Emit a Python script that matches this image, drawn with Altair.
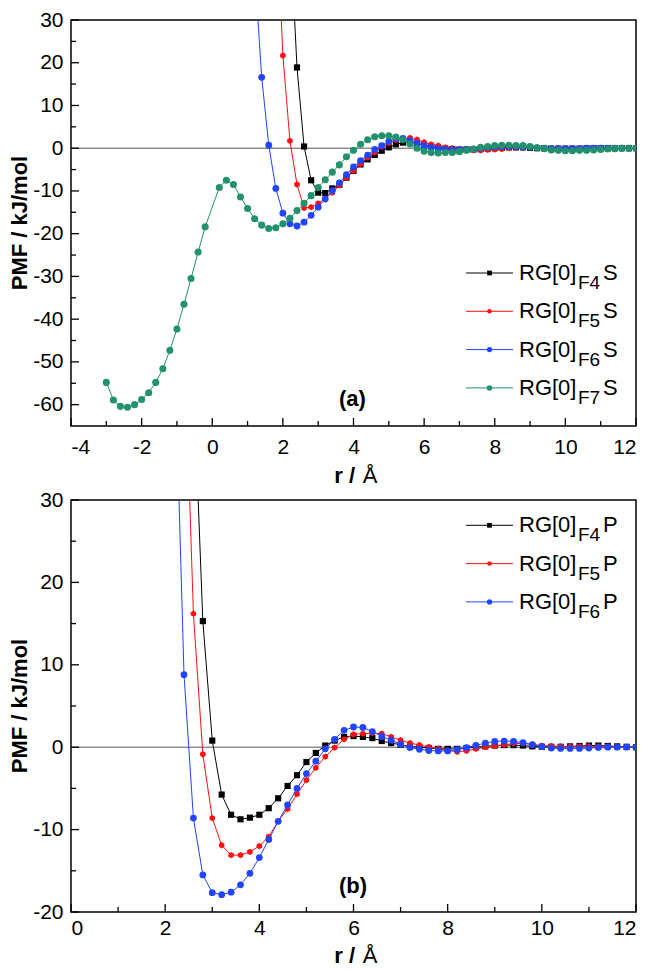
import altair as alt
import pandas as pd

FONT = "Liberation Sans"

# ---------------- Panel (a) data ----------------
A_F4S_X = [2.2, 2.4, 2.6, 2.8, 3.0, 3.2, 3.4, 3.6, 3.8, 4.0,
           4.2, 4.4, 4.6, 4.8, 5.0, 5.2, 5.4, 5.6, 5.8, 6.0,
           6.2, 6.4, 6.6, 6.8, 7.0, 7.2, 7.4, 7.6, 7.8, 8.0,
           8.2, 8.4, 8.6, 8.8, 9.0, 9.2, 9.4, 9.6, 9.8, 10.0,
           10.2, 10.4, 10.6, 10.8, 11.0, 11.2, 11.4, 11.6, 11.8, 12.0]
A_F4S_Y = [52, 18.9, 0.4, -7.5, -10.4, -10.5, -9.4, -8.6, -6.9, -5.3,
           -3.8, -2.6, -1.6, -0.6, 0.2, 0.9, 1.3, 1.4, 1.1, 0.7,
           0.4, 0.1, -0.1, -0.2, -0.3, -0.3, -0.3, -0.2, -0.1, 0.0,
           0.1, 0.2, 0.2, 0.2, 0.1, 0.0, 0.0, -0.1, -0.1, -0.1,
           -0.1, -0.1, 0.0, 0.0, 0.0, 0.0, 0.0, 0.0, 0.0, 0.0]

A_F5S_X = [1.8, 2.0, 2.2, 2.4, 2.6, 2.8, 3.0, 3.2, 3.4, 3.6, 3.8, 4.0,
           4.2, 4.4, 4.6, 4.8, 5.0, 5.2, 5.4, 5.6, 5.8, 6.0,
           6.2, 6.4, 6.6, 6.8, 7.0, 7.2, 7.4, 7.6, 7.8, 8.0,
           8.2, 8.4, 8.6, 8.8, 9.0, 9.2, 9.4, 9.6, 9.8, 10.0,
           10.2, 10.4, 10.6, 10.8, 11.0, 11.2, 11.4, 11.6, 11.8, 12.0]
A_F5S_Y = [59, 21.7, 1.7, -8.5, -14.0, -13.8, -12.9, -11.8, -10.4, -8.7, -6.9, -5.3,
           -3.7, -2.2, -1.0, 0.3, 1.2, 1.9, 2.3, 2.4, 2.0, 1.4,
           0.9, 0.6, 0.2, 0.0, -0.3, -0.4, -0.5, -0.5, -0.4, -0.3,
           -0.2, 0.0, 0.1, 0.1, 0.2, 0.1, 0.0, -0.1, -0.1, -0.1,
           -0.1, -0.1, 0.0, 0.0, 0.0, 0.0, 0.0, 0.0, 0.0, 0.0]

A_F6S_X = [1.2, 1.4, 1.6, 1.8, 2.0, 2.2, 2.4, 2.6, 2.8, 3.0, 3.2, 3.4, 3.6, 3.8, 4.0,
           4.2, 4.4, 4.6, 4.8, 5.0, 5.2, 5.4, 5.6, 5.8, 6.0,
           6.2, 6.4, 6.6, 6.8, 7.0, 7.2, 7.4, 7.6, 7.8, 8.0,
           8.2, 8.4, 8.6, 8.8, 9.0, 9.2, 9.4, 9.6, 9.8, 10.0,
           10.2, 10.4, 10.6, 10.8, 11.0, 11.2, 11.4, 11.6, 11.8, 12.0]
A_F6S_Y = [42, 16.6, 0.7, -9.4, -15.2, -17.7, -18.2, -17.3, -15.7, -13.8, -11.9, -9.9, -8.1, -6.2, -4.4,
           -2.9, -1.6, -0.3, 0.6, 1.6, 2.3, 2.3, 1.8, 1.2, 0.6,
           0.2, -0.1, -0.3, -0.4, -0.4, -0.3, -0.2, 0.0, 0.2, 0.3,
           0.4, 0.4, 0.4, 0.3, 0.3, 0.1, 0.0, -0.1, -0.1, -0.1,
           -0.1, -0.1, 0.0, 0.0, 0.0, 0.0, 0.0, 0.0, 0.0, 0.0]

A_F7S_X = [-3.0, -2.8, -2.6, -2.4, -2.2, -2.0, -1.8, -1.6, -1.4, -1.2,
           -1.0, -0.8, -0.6, -0.4, -0.2, 0.2, 0.4, 0.6, 0.8, 1.0,
           1.2, 1.4, 1.6, 1.8, 2.0, 2.2, 2.4, 2.6, 2.8, 3.0,
           3.2, 3.4, 3.6, 3.8, 4.0, 4.2, 4.4, 4.6, 4.8, 5.0,
           5.2, 5.4, 5.6, 5.8, 6.0, 6.2, 6.4, 6.6, 6.8, 7.0,
           7.2, 7.4, 7.6, 7.8, 8.0, 8.2, 8.4, 8.6, 8.8, 9.0,
           9.2, 9.4, 9.6, 9.8, 10.0, 10.2, 10.4, 10.6, 10.8, 11.0,
           11.2, 11.4, 11.6, 11.8, 12.0]
A_F7S_Y = [-54.8, -58.9, -60.4, -60.6, -60.0, -58.8, -57.2, -54.8, -51.6, -47.3,
           -42.3, -36.5, -30.5, -24.3, -18.4, -9.2, -7.5, -8.5, -11.4, -14.1,
           -16.5, -18.0, -18.8, -18.6, -17.7, -16.4, -14.6, -12.9, -11.1, -9.2,
           -7.4, -5.6, -3.9, -2.0, -0.5, 0.9, 2.0, 2.7, 2.9, 2.9,
           2.6, 2.0, 1.0, 0.0, -0.7, -1.0, -1.1, -1.0, -1.0, -0.8,
           -0.5, -0.2, 0.2, 0.4, 0.6, 0.7, 0.7, 0.65, 0.6, 0.4,
           0.1, -0.1, -0.4, -0.5, -0.6, -0.6, -0.5, -0.5, -0.4, -0.3,
           -0.2, -0.1, 0.0, 0.0, 0.0]

# ---------------- Panel (b) data ----------------
B_F4P_X = [2.6, 2.8, 3.0, 3.2, 3.4, 3.6, 3.8, 4.0,
           4.2, 4.4, 4.6, 4.8, 5.0, 5.2, 5.4, 5.6, 5.8, 6.0,
           6.2, 6.4, 6.6, 6.8, 7.0, 7.2, 7.4, 7.6, 7.8, 8.0,
           8.2, 8.4, 8.6, 8.8, 9.0, 9.2, 9.4, 9.6, 9.8, 10.0,
           10.2, 10.4, 10.6, 10.8, 11.0, 11.2, 11.4, 11.6, 11.8, 12.0]
B_F4P_Y = [45, 15.3, 0.8, -5.75, -8.2, -8.75, -8.55, -8.2,
           -7.4, -6.2, -4.7, -3.4, -1.8, -0.7, 0.2, 0.8, 1.25, 1.35,
           1.25, 1.1, 0.75, 0.5, 0.3, 0.1, 0.0, -0.1, -0.2, -0.2,
           -0.2, -0.1, 0.0, 0.1, 0.2, 0.25, 0.25, 0.2, 0.1, 0.05,
           0.05, 0.05, 0.1, 0.15, 0.2, 0.2, 0.15, 0.1, 0.05, 0.0]

B_F5P_X = [2.4, 2.6, 2.8, 3.0, 3.2, 3.4, 3.6, 3.8, 4.0,
           4.2, 4.4, 4.6, 4.8, 5.0, 5.2, 5.4, 5.6, 5.8, 6.0,
           6.2, 6.4, 6.6, 6.8, 7.0, 7.2, 7.4, 7.6, 7.8, 8.0,
           8.2, 8.4, 8.6, 8.8, 9.0, 9.2, 9.4, 9.6, 9.8, 10.0,
           10.2, 10.4, 10.6, 10.8, 11.0, 11.2, 11.4, 11.6, 11.8, 12.0]
B_F5P_Y = [51, 16.2, -0.86, -8.6, -11.9, -13.1, -13.1, -12.7, -12.0,
           -10.85, -9.0, -7.5, -5.7, -4.0, -2.5, -1.15, -0.05, 0.96, 1.55,
           1.65, 1.7, 1.65, 1.25, 0.85, 0.5, 0.27, 0.03, -0.2, -0.4,
           -0.55, -0.45, -0.2, 0.0, 0.15, 0.3, 0.45, 0.45, 0.35, 0.2,
           0.15, 0.1, 0.1, 0.1, 0.1, 0.1, 0.1, 0.05, 0.05, 0.05]

B_F6P_X = [2.2, 2.4, 2.6, 2.8, 3.0, 3.2, 3.4, 3.6, 3.8, 4.0,
           4.2, 4.4, 4.6, 4.8, 5.0, 5.2, 5.4, 5.6, 5.8, 6.0,
           6.2, 6.4, 6.6, 6.8, 7.0, 7.2, 7.4, 7.6, 7.8, 8.0,
           8.2, 8.4, 8.6, 8.8, 9.0, 9.2, 9.4, 9.6, 9.8, 10.0,
           10.2, 10.4, 10.6, 10.8, 11.0, 11.2, 11.4, 11.6, 11.8, 12.0]
B_F6P_Y = [49, 8.8, -8.6, -15.5, -17.65, -17.9, -17.6, -16.7, -15.3, -13.4,
           -11.2, -9.0, -7.0, -5.0, -3.2, -1.7, -0.2, 0.96, 2.05, 2.45,
           2.4, 1.9, 1.3, 0.85, 0.35, -0.05, -0.25, -0.4, -0.45, -0.45,
           -0.3, -0.05, 0.23, 0.5, 0.7, 0.75, 0.7, 0.55, 0.3, 0.07,
           -0.1, -0.15, -0.15, -0.15, -0.1, -0.05, 0.0, 0.0, 0.0, 0.0]

# ---------------- axes / labels ----------------
A_X_MAJOR = [-4, -2, 0, 2, 4, 6, 8, 10, 12]
A_X_MINOR = [-3, -1, 1, 3, 5, 7, 9, 11]
A_Y_MAJOR = [-60, -50, -40, -30, -20, -10, 0, 10, 20, 30]
A_Y_MINOR = [-55, -45, -35, -25, -15, -5, 5, 15, 25]
B_X_MAJOR = [0, 2, 4, 6, 8, 10, 12]
B_X_MINOR = [1, 3, 5, 7, 9, 11]
B_Y_MAJOR = [-20, -10, 0, 10, 20, 30]
B_Y_MINOR = [-15, -5, 5, 15, 25]

A_SUBS = ["F4", "F5", "F6", "F7"]
A_SUFFIX = "S"
B_SUBS = ["F4", "F5", "F6"]
B_SUFFIX = "P"
Y_TITLE = "PMF / kJ/mol"

BLACK, RED, BLUE, GREEN = "#000000", "#ff1010", "#2244ff", "#22916e"
HEX = "M0,-1L0.866,-0.5L0.866,0.5L0,1L-0.866,0.5L-0.866,-0.5Z"
STYLES = [(BLACK, "square", 38), (RED, HEX, 40), (BLUE, "circle", 46), (GREEN, "circle", 50)]

W = 565
HA = 406
HB = 412
LABEL_EXPR = "replace(datum.label, '\u2212', '-')"


def txt(s, x, y, size=22, bold=False, align="left", baseline="alphabetic", angle=0):
    kw = dict(text=s, fontSize=size, font=FONT, align=align, baseline=baseline,
              fontWeight="bold" if bold else "normal", color="black")
    if angle:
        kw["angle"] = angle
    return alt.Chart(pd.DataFrame({"k": [0]})).mark_text(**kw).encode(
        x=alt.value(x), y=alt.value(y))


def panel(series, xdom, ydom, xmaj, xmin, ymaj, ymin, H, subs, suffix,
          leg_base, panel_label, label_base, xtitle_base, xpad):
    xs = alt.Scale(domain=xdom, nice=False, zero=False)
    ys = alt.Scale(domain=ydom, nice=False, zero=False)
    xax = alt.Axis(values=xmaj, title=None, ticks=False, domain=False, grid=False,
                   labelFont=FONT, labelFontSize=21, labelColor="black", labelPadding=xpad,
                   labelExpr=LABEL_EXPR)
    yax = alt.Axis(values=ymaj, title=None, ticks=False, domain=False, grid=False,
                   labelFont=FONT, labelFontSize=21, labelColor="black", labelPadding=8,
                   labelExpr=LABEL_EXPR)
    X = lambda f: alt.X(f, scale=xs, axis=xax)
    Y = lambda f: alt.Y(f, scale=ys, axis=yax)
    layers = []
    layers.append(alt.Chart(pd.DataFrame({"v": [0]})).mark_rule(
        color="#555555", strokeWidth=1).encode(y=Y("v:Q")))
    for (xv, yv), (col, shp, sz) in zip(series, STYLES):
        df = pd.DataFrame({"r": xv, "pmf": yv})
        base = alt.Chart(df).encode(x=X("r:Q"), y=Y("pmf:Q"))
        layers.append(base.mark_line(color=col, strokeWidth=1, clip=True))
        layers.append(base.mark_point(shape=shp, filled=True, size=sz, color=col,
                                      opacity=1, clip=True))
    # ticks (inward)
    for vals, ln in ((ymaj, 8), (ymin, 5)):
        layers.append(alt.Chart(pd.DataFrame({"v": vals})).mark_rule(
            color="black", strokeWidth=1.3).encode(
            y=Y("v:Q"), x=alt.value(0), x2=alt.value(ln)))
    for vals, ln in ((xmaj, 8), (xmin, 5)):
        layers.append(alt.Chart(pd.DataFrame({"v": vals})).mark_rule(
            color="black", strokeWidth=1.3).encode(
            x=X("v:Q"), y=alt.value(H), y2=alt.value(H - ln)))
    # legend
    for i, sub in enumerate(subs):
        col, shp, sz = STYLES[i]
        b = leg_base + i * 38.3
        ly = b - 7
        layers.append(alt.Chart(pd.DataFrame({"k": [0]})).mark_rule(
            color=col, strokeWidth=1).encode(
            x=alt.value(395), x2=alt.value(442), y=alt.value(ly)))
        layers.append(alt.Chart(pd.DataFrame({"k": [0]})).mark_point(
            shape=shp, filled=True, size=sz * 0.6, color=col, opacity=1).encode(
            x=alt.value(418.5), y=alt.value(ly)))
        layers.append(txt("RG[0]", 448, b))
        layers.append(txt(sub, 507, b + 9, size=19))
        layers.append(txt(suffix, 532, b))
    layers.append(txt(panel_label, 268, label_base, bold=True))
    # axis titles
    layers.append(txt("r /", 263.3, xtitle_base, bold=True))
    layers.append(txt("Å", 291.7, xtitle_base))
    layers.append(txt(Y_TITLE, -51, H / 2, bold=True, align="center",
                      baseline="middle", angle=270))
    return alt.layer(*layers).properties(width=W, height=H)


pa = panel([(A_F4S_X, A_F4S_Y), (A_F5S_X, A_F5S_Y), (A_F6S_X, A_F6S_Y), (A_F7S_X, A_F7S_Y)],
           [-4, 12], [-65, 30], A_X_MAJOR, A_X_MINOR, A_Y_MAJOR, A_Y_MINOR, HA,
           A_SUBS, A_SUFFIX, 260, "(a)", 385.5, HA + 57, 10)
pb = panel([(B_F4P_X, B_F4P_Y), (B_F5P_X, B_F5P_Y), (B_F6P_X, B_F6P_Y)],
           [0, 12], [-20, 30], B_X_MAJOR, B_X_MINOR, B_Y_MAJOR, B_Y_MINOR, HB,
           B_SUBS, B_SUFFIX, 32.3, "(b)", 393, HB + 51, 5)

chart = alt.vconcat(pa, pb, spacing=0).properties(padding=0).configure(
    background="white").configure_view(stroke="black", strokeWidth=1.5)

chart.save("out.html", embed_options={"renderer": "svg", "actions": False})
